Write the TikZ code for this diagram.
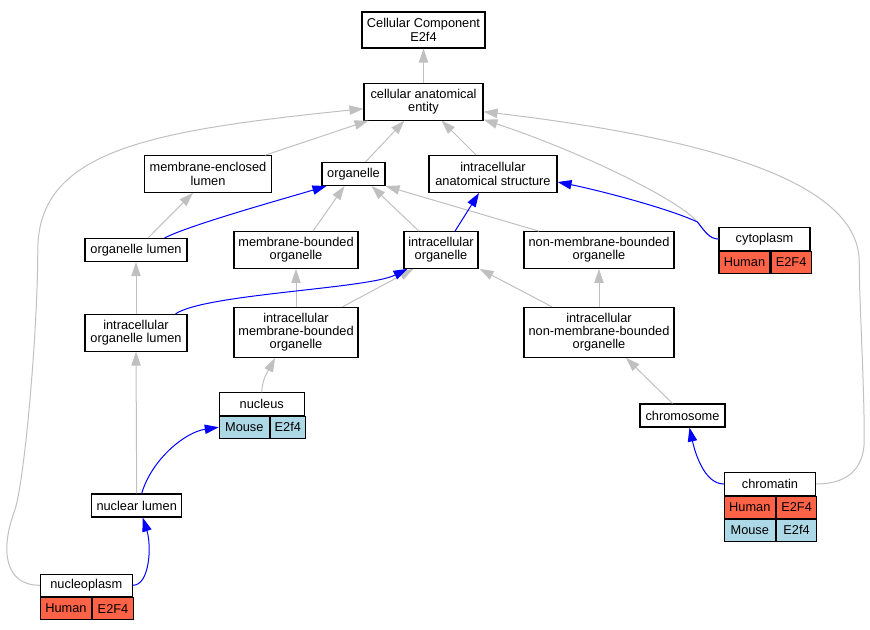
\documentclass[tikz,border=0pt]{standalone}
\usepackage{fontspec}
\setmainfont{Liberation Sans}
\usetikzlibrary{arrows.meta, positioning, calc}
\definecolor{isagray}{RGB}{192,192,192}
\definecolor{orthoblue}{RGB}{0,0,255}
\definecolor{human}{RGB}{255,99,71}
\definecolor{mouse}{RGB}{173,216,230}
\newcommand\gofont{\fontsize{9.6}{10}\selectfont}
\tikzset{
  % --- GO terms ---------------------------------------------
  goterm/.style={draw, fill=white, line width=0.8pt, align=center,
    inner sep=0pt, font=\gofont},
  gohead/.style={goterm, minimum height=16.75pt},
  gocell/.style={draw, line width=0.8pt, inner sep=0pt,
    minimum height=16.5pt, font=\gofont},
  % --- Kanten -----------------------------------------------
  isa/.style={draw=isagray, line width=0.75pt,
    -{Triangle[length=10.5pt, width=7pt]}},
  ortho/.style={draw=orthoblue, line width=0.75pt,
    -{Triangle[length=10.5pt, width=7pt]}}
}

\begin{document}
\begin{tikzpicture}[x=0.75pt, y=-0.75pt]
  \useasboundingbox (0,0) rectangle (870,629);

  % ---------- Wurzel ----------
  \node[goterm, minimum width=92.25pt, minimum height=27pt] (cc) at (423.5,30)
    {Cellular Component\\E2f4};
  \node[goterm, minimum width=89.25pt, minimum height=27.5pt] (cae) at (423.5,101.7)
    {cellular anatomical\\entity};

  % ---------- Ebene 1 ----------
  \node[goterm, minimum width=95.25pt, minimum height=27.4pt] (mel) at (208,174)
    {membrane-enclosed\\lumen};
  \node[goterm, minimum width=47.25pt, minimum height=17.25pt] (org) at (353.5,174)
    {organelle};
  \node[goterm, minimum width=96pt, minimum height=27.75pt] (ias) at (493,174)
    {intracellular\\anatomical structure};

  % ---------- Ebene 2 ----------
  \node[goterm, minimum width=76.5pt, minimum height=17.25pt] (ol) at (136,250)
    {organelle lumen};
  \node[goterm, minimum width=93pt, minimum height=27.5pt] (mbo) at (296,250)
    {membrane-bounded\\organelle};
  \node[goterm, minimum width=55.5pt, minimum height=27.5pt] (io) at (441,250)
    {intracellular\\organelle};
  \node[goterm, minimum width=112.5pt, minimum height=27.5pt] (nmbo) at (599,250)
    {non-membrane-bounded\\organelle};

  % ---------- Ebene 3 ----------
  \node[goterm, minimum width=76.5pt, minimum height=27.5pt] (iol) at (136,332.7)
    {intracellular\\organelle lumen};
  \node[goterm, minimum width=93pt, minimum height=37.5pt] (imbo) at (296,332.3)
    {intracellular\\membrane-bounded\\organelle};
  \node[goterm, minimum width=112.5pt, minimum height=37.5pt] (inmbo) at (599,332.3)
    {intracellular\\non-membrane-bounded\\organelle};
  \node[goterm, minimum width=63.75pt, minimum height=17.25pt] (chromosome)
    at (682.5,415.5) {chromosome};
  \node[goterm, minimum width=67.5pt, minimum height=17.25pt] (nl) at (136.7,505.5)
    {nuclear lumen};

  % ---------- Annotierte Terme ----------
  \node[gohead, minimum width=68.25pt] (cyto) at (764.5,239) {cytoplasm};
  \node[gocell, fill=human, minimum width=38.25pt,
        below right=0pt and 0pt of cyto.south west] (cytoS) {Human};
  \node[gocell, fill=human, minimum width=30pt, right=0pt of cytoS] (cytoG) {E2F4};

  \node[gohead, minimum width=63.75pt] (nucleus) at (261.8,404) {nucleus};
  \node[gocell, fill=mouse, minimum width=37.5pt,
        below right=0pt and 0pt of nucleus.south west] (nucleusS) {Mouse};
  \node[gocell, fill=mouse, minimum width=26.25pt, right=0pt of nucleusS]
    (nucleusG) {E2f4};

  \node[gohead, minimum width=68.55pt] (chromatin) at (770,484) {chromatin};
  \node[gocell, fill=human, minimum width=38.25pt,
        below right=0pt and 0pt of chromatin.south west] (chromatinS) {Human};
  \node[gocell, fill=human, minimum width=30.3pt, right=0pt of chromatinS]
    (chromatinG) {E2F4};
  \node[gocell, fill=mouse, minimum width=38.25pt, below=0pt of chromatinS]
    (chromatinM) {Mouse};
  \node[gocell, fill=mouse, minimum width=30.3pt, right=0pt of chromatinM]
    (chromatinMG) {E2f4};

  \node[gohead, minimum width=69pt] (nucleoplasm) at (86.3,585.3) {nucleoplasm};
  \node[gocell, fill=human, minimum width=38.5pt,
        below right=0pt and 0pt of nucleoplasm.south west] (nucleoplasmS) {Human};
  \node[gocell, fill=human, minimum width=30.5pt, right=0pt of nucleoplasmS]
    (nucleoplasmG) {E2F4};

  % ---------- is_a (grau) ----------
  \draw[isa] (cae.north) -- (cc.south);
  \draw[isa] ($(mel.north east)+(-7,0)$) -- ($(cae.south west)+(5,0)$);
  \draw[isa] ($(org.north)+(12,0)$) -- ($(cae.south)+(-19,0)$);
  \draw[isa] ($(ias.north)+(-17,0)$) -- ($(cae.south)+(18,0)$);
  \draw[isa] (cyto.west) .. controls +(-9,0) and +(7,9) .. ++(-21,-17)
    .. controls +(-18,-22) and +(97,32) .. ($(cae.south east)+(0,-1)$);
  \draw[isa] (chromatin.east) .. controls +(35,0) and +(0,25) .. ++(48,-44)
    .. controls +(0,-60) and +(0,40) .. ++(-5,-178)
    .. controls +(0,-77) and +(237,28) .. ($(cae.east)+(0,10)$);
  \draw[isa] (nucleoplasm.west) .. controls +(-35,0) and +(-15,40) .. ++(-25,-75)
    .. controls +(10,-30) and +(0,80) .. ++(23,-260)
    .. controls +(0,-100) and +(-214,22) .. ($(cae.west)+(0,7)$);

  \draw[isa] ($(mbo.north)+(17,0)$) -- ($(org.south)+(-9,0)$);
  \draw[isa] ($(io.north)+(-22,0)$) -- ($(org.south east)+(-14,0)$);
  \draw[isa] ($(nmbo.north)+(-60,0)$) -- (org.south east);
  \draw[isa] ($(ol.north)+(12,0)$) -- ($(mel.south)+(-15,0)$);
  \draw[isa] (iol.north) -- (ol.south);
  \draw[isa] ($(imbo.north east)+(-16,0)$) -- ($(io.south west)+(10,0)$);
  \draw[isa] (imbo.north) -- (mbo.south);
  \draw[isa] ($(inmbo.north)+(-47,0)$) -- ($(io.south east)+(1,0)$);
  \draw[isa] (inmbo.north) -- (nmbo.south);
  \draw[isa] (nucleus.north) .. controls +(0,-14) and +(-5,10) .. ($(imbo.south)+(-21,0)$);
  \draw[isa] ($(chromosome.north)+(-10,0)$) -- ($(inmbo.south)+(27,0)$);
  \draw[isa] (nl.north) -- (iol.south);

  % ---------- part_of (blau) ----------
  \draw[ortho] ($(ol.north east)+(-23,0)$) .. controls +(25,-13) and +(-40,12)
    .. ($(org.south west)+(5,0)$);
  \draw[ortho] ($(io.north)+(14,0)$) -- ($(ias.south)+(-14,0)$);
  \draw[ortho] (cyto.west) .. controls +(-9,0) and +(7,9) .. ++(-21,-17)
    .. controls +(-30,-14) and +(40,8) .. ($(ias.east)+(0,8)$);
  \draw[ortho] ($(iol.north east)+(-12,0)$) .. controls +(30,-20) and +(-40,20)
    .. ($(io.south west)+(4,0)$);
  \draw[ortho] ($(nl.north)+(5,0)$) .. controls +(10,-34) and +(-34,5) .. (nucleusS.west);
  \draw[ortho] (nucleoplasm.east) .. controls +(17,0) and +(9,28) .. ($(nl.south)+(6,0)$);
  \draw[ortho] (chromatin.west) .. controls +(-20,0) and +(5,23)
    .. ($(chromosome.south)+(7,0)$);

\end{tikzpicture}
\end{document}
